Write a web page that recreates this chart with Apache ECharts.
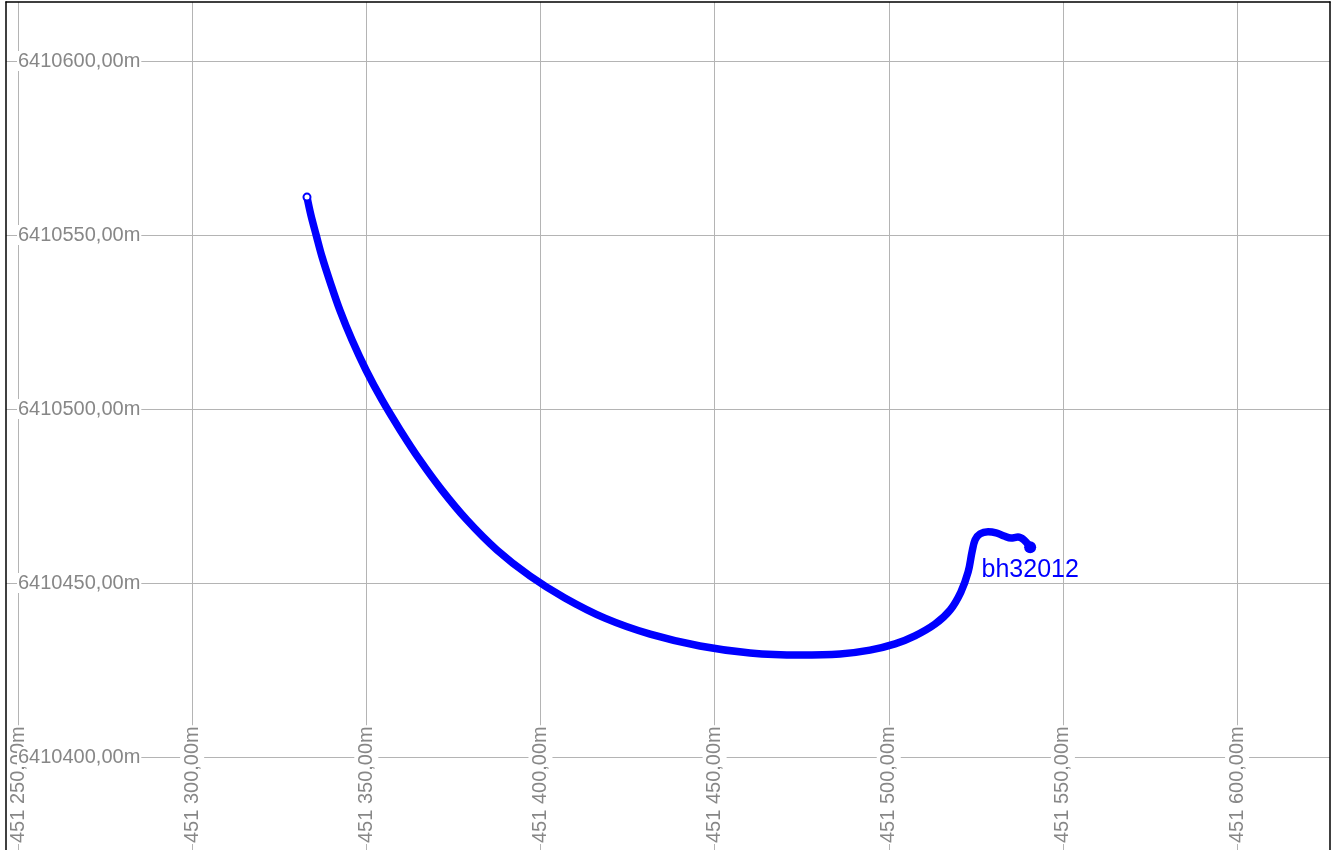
<!DOCTYPE html>
<html>
<head>
<meta charset="utf-8">
<script src="https://cdn.jsdelivr.net/npm/echarts@6/dist/echarts.min.js"></script>
<style>
html,body{margin:0;padding:0;background:#fff;}
#chart{width:1337px;height:850px;}
</style>
</head>
<body>
<div id="chart"></div>
<script>
// Well path (easting / northing, metres)
const wellName = 'bh32012';
const eastings = [
  451332.97, 451334.1, 451335.6, 451337.3, 451339.6, 451342.4, 451345.9, 451349.9,
  451354.5, 451359.7, 451365.4, 451371.7, 451378.9, 451387.5, 451397.0, 451407.0,
  451418.5, 451431.5, 451445.8, 451460.2, 451474.5, 451486.0, 451494.6, 451501.8,
  451507.5, 451513.3, 451517.6, 451520.7, 451522.8, 451523.9, 451524.8, 451526.2,
  451528.5, 451530.8, 451533.1, 451535.1, 451537.1, 451538.8, 451540.6
];
const northings = [
  6410560.9, 6410555.7, 6410550.0, 6410543.7, 6410536.5, 6410528.4, 6410519.8, 6410511.2,
  6410502.6, 6410494.0, 6410485.3, 6410476.7, 6410468.1, 6410459.5, 6410452.0, 6410445.7,
  6410439.9, 6410435.3, 6410431.9, 6410429.9, 6410429.3, 6410429.6, 6410430.7, 6410432.5,
  6410434.8, 6410438.2, 6410442.2, 6410447.4, 6410453.2, 6410458.9, 6410462.4, 6410464.1,
  6410464.7, 6410464.4, 6410463.5, 6410462.9, 6410463.2, 6410462.4, 6410460.3
];
// Axis views
const xMin = 451246.555, xMax = 451626.68;
const yMin = 6410373.276, yMax = 6410616.954;
const tickStep = 50;

const chart = echarts.init(document.getElementById('chart'), null, {renderer: 'canvas'});

const FONT = 'Liberation Sans, Arial, Helvetica, sans-serif';
const LABEL_COLOR = '#878787';
const GRID_COLOR = '#b4b4b4';
const FRAME = {show: true, onZero: false, lineStyle: {color: '#000', width: 1.5}};

function isStep(v){ return Math.abs(v / tickStep - Math.round(v / tickStep)) < 1e-6; }
function fmtX(v){
  if (!isStep(v)) return '';
  const s = String(Math.round(v));
  return s.slice(0, 3) + ' ' + s.slice(3) + ',00m';
}
function fmtY(v){
  if (!isStep(v)) return '';
  return Math.round(v) + ',00m';
}

const data = eastings.map((e, i) => {
  const item = {value: [e, northings[i]]};
  if (i === 0) {
    item.symbol = 'emptyCircle';
    item.symbolSize = 7;
    item.itemStyle = {color: '#0000ff', borderWidth: 1.2};
  }
  if (i === eastings.length - 1) {
    item.symbol = 'circle';
    item.symbolSize = 12;
    item.label = {
      show: true, position: 'bottom', distance: 4,
      formatter: wellName, color: '#0000ff', fontSize: 25, fontFamily: FONT
    };
  }
  return item;
});

const option = {
  animation: false,
  backgroundColor: '#fff',
  grid: {left: 6, right: 7, top: 2, bottom: 0, show: false},
  xAxis: [
    {
      type: 'value', min: xMin, max: xMax,
      minInterval: tickStep, maxInterval: tickStep, splitNumber: 8,
      z: 1,
      axisLine: {show: false}, axisTick: {show: false},
      splitLine: {show: true, showMinLine: false, showMaxLine: false, lineStyle: {color: GRID_COLOR, width: 1}},
      axisLabel: {
        inside: true, rotate: 90, margin: 6,
        showMinLabel: false, showMaxLabel: false,
        formatter: fmtX, color: LABEL_COLOR, fontSize: 20, fontFamily: FONT,
        backgroundColor: '#fff', padding: [2, 1, 2, 1]
      }
    },
    {
      type: 'value', min: xMin, max: xMax, position: 'top',
      z: 4,
      axisLine: FRAME, axisTick: {show: false},
      splitLine: {show: false}, axisLabel: {show: false}
    }
  ],
  yAxis: [
    {
      type: 'value', min: yMin, max: yMax, position: 'left',
      minInterval: tickStep, maxInterval: tickStep, splitNumber: 5,
      z: 0,
      axisLine: {show: false}, axisTick: {show: false},
      splitLine: {show: true, showMinLine: false, showMaxLine: false, lineStyle: {color: GRID_COLOR, width: 1}},
      axisLabel: {show: false}
    },
    {
      type: 'value', min: yMin, max: yMax, position: 'left',
      minInterval: tickStep, maxInterval: tickStep, splitNumber: 5,
      z: 3,
      axisLine: FRAME, axisTick: {show: false},
      splitLine: {show: false},
      axisLabel: {
        inside: true, margin: 11,
        showMinLabel: false, showMaxLabel: false,
        formatter: fmtY, color: LABEL_COLOR, fontSize: 20, fontFamily: FONT,
        backgroundColor: '#fff', padding: [0, 1, 0, 1]
      }
    },
    {
      type: 'value', min: yMin, max: yMax, position: 'right',
      z: 4,
      axisLine: FRAME, axisTick: {show: false},
      splitLine: {show: false}, axisLabel: {show: false}
    }
  ],
  series: [{
    type: 'line',
    name: wellName,
    data: data,
    xAxisIndex: 0,
    yAxisIndex: 0,
    symbol: 'none',
    showSymbol: true,
    smooth: 0.35,
    lineStyle: {color: '#0000ff', width: 7.5, cap: 'round', join: 'round'},
    itemStyle: {color: '#0000ff'},
    z: 2
  }]
};
chart.setOption(option);
</script>
</body>
</html>
